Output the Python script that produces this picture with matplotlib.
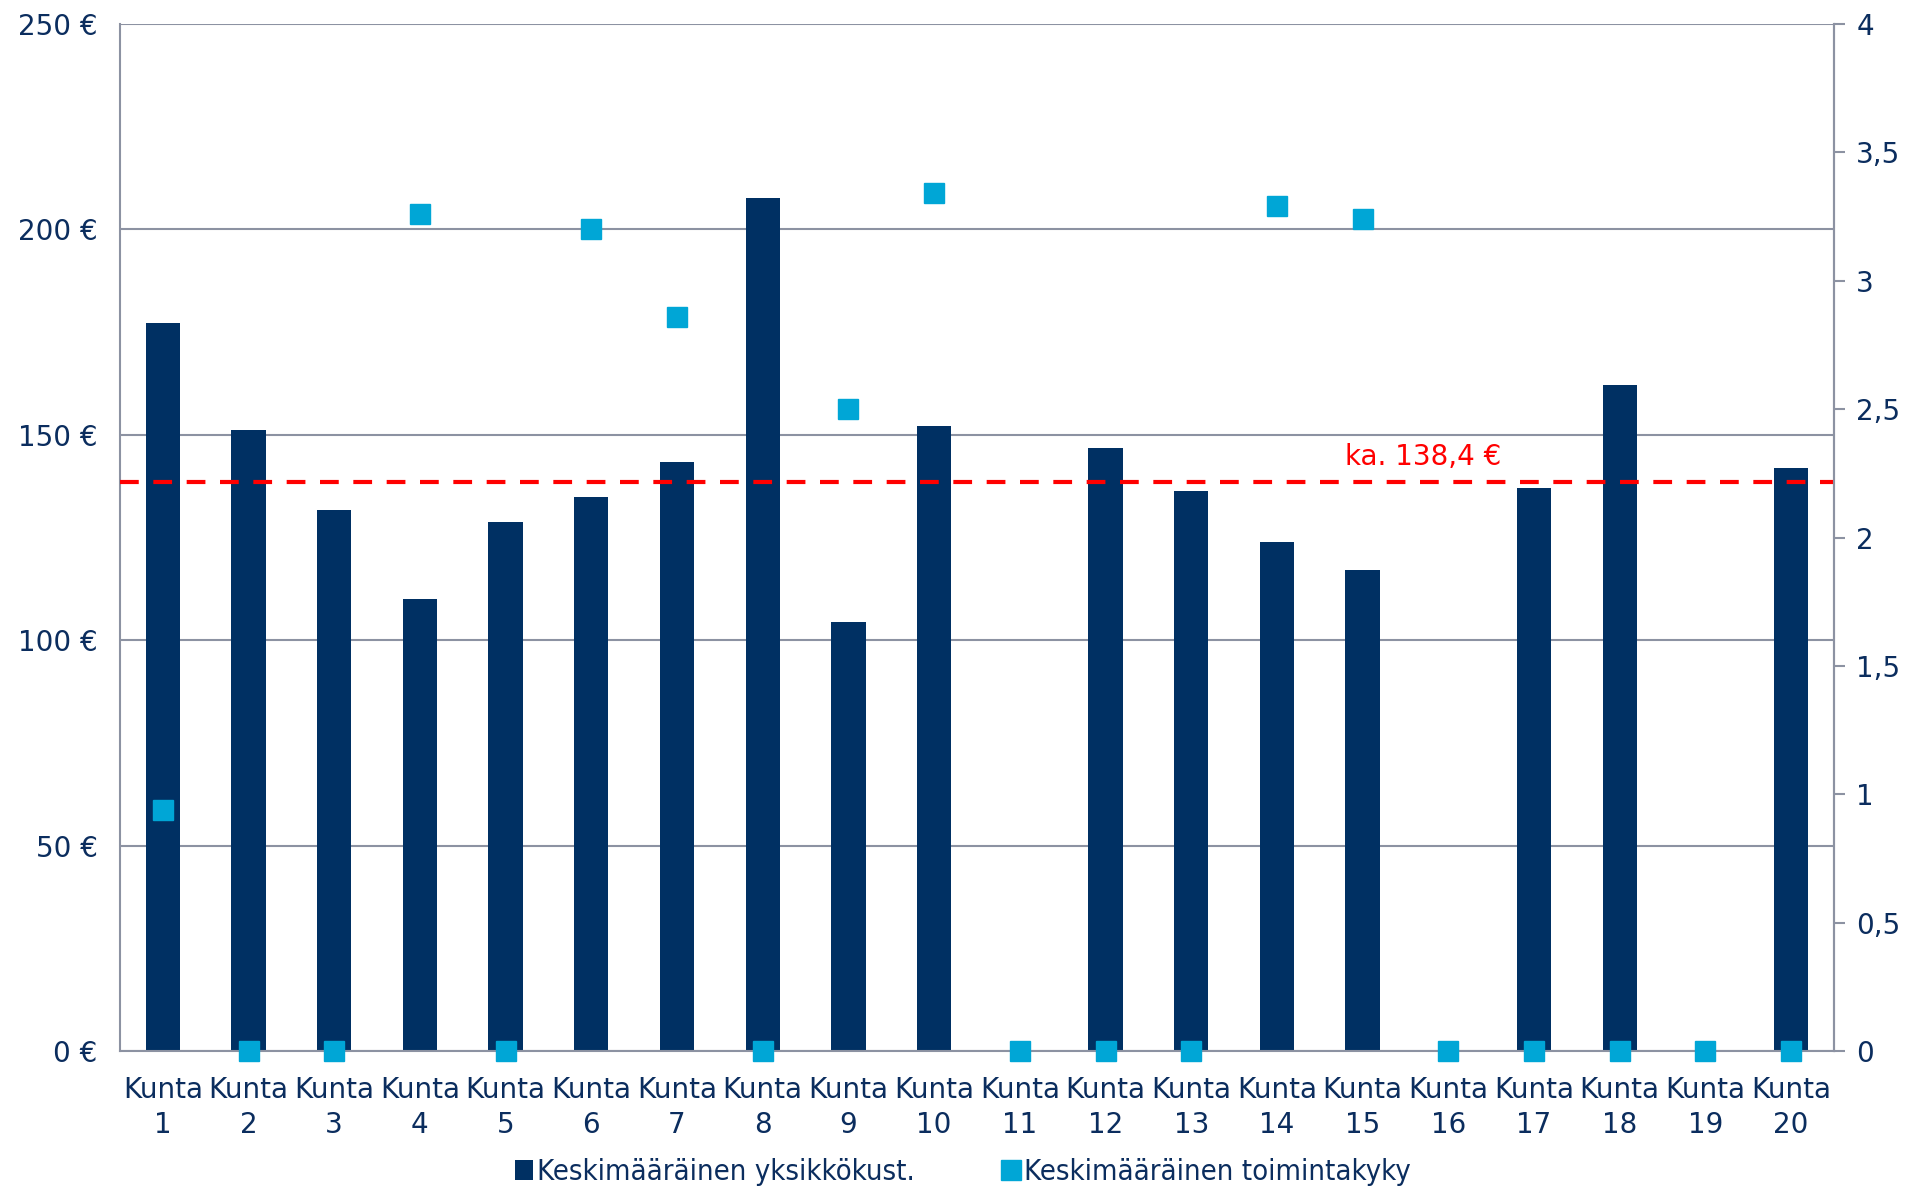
import matplotlib.pyplot as plt
import numpy as np

# data
kunnat = ["Kunta\n" + str(i) for i in range(1, 21)]
yksikkokust = [177.3, 151.2, 131.7, 110.0, 128.7, 134.9, 143.5, 207.6, 104.4, 152.1,
               0, 146.8, 136.4, 124.0, 117.1, 0, 137.0, 162.2, 0, 142.0]
toimintakyky = [0.94, 0, 0, 3.26, 0, 3.20, 2.86, 0, 2.50, 3.34,
                0, 0, 0, 3.29, 3.24, 0, 0, 0, 0, 0]
keskiarvo = 138.4

navy = '#003063'
cyan = '#00A6D6'
textc = '#0B2D5E'
gridc = '#8C92A2'

plt.rcParams['font.family'] = ['DejaVu Sans']
plt.rcParams['font.size'] = 18

fig = plt.figure(figsize=(19.07, 11.9), dpi=100)
ax = fig.add_axes([0.0629, 0.1168, 0.8988, 0.8630])
ax2 = ax.twinx()

x = np.arange(len(kunnat))
ax.bar(x, yksikkokust, width=0.4, color=navy, zorder=2,
       label='Keskimääräinen yksikkökust.')
ax.axhline(keskiarvo, color='#FF0000', lw=3, linestyle=(0, (4.5, 3.5)), zorder=3)
ax.text(14.71, 144.7, "ka. 138,4 €", color='#FF0000', fontsize=20,
        ha='center', va='center')

ax2.plot(x, toimintakyky, 's', color=cyan, markersize=14, clip_on=False,
         zorder=5, label='Keskimääräinen toimintakyky')

ax.set_xlim(-0.5, 19.5)
ax.set_ylim(0, 250)
ax2.set_ylim(0, 4)
ax.set_yticks([0, 50, 100, 150, 200, 250])
ax.set_yticklabels([f"{v} €" for v in [0, 50, 100, 150, 200, 250]])
ax2.set_yticks([0, 0.5, 1, 1.5, 2, 2.5, 3, 3.5, 4])
ax2.set_yticklabels(["0", "0,5", "1", "1,5", "2", "2,5", "3", "3,5", "4"])
ax.set_xticks(x)
ax.set_xticklabels(kunnat, linespacing=1.3)

ax.grid(axis='y', color=gridc, lw=1.5, zorder=0)
ax.set_axisbelow(True)
for a in (ax, ax2):
    for s in a.spines.values():
        s.set_color(gridc)
        s.set_linewidth(1.5)
    a.spines['top'].set_visible(False)
ax2.spines['left'].set_visible(False)
ax2.spines['bottom'].set_visible(False)

ax.tick_params(axis='y', length=0, pad=16, colors=textc, labelsize=20)
ax.tick_params(axis='x', length=0, pad=18, colors=textc, labelsize=20)
ax2.tick_params(axis='y', length=8, width=1.5, color=gridc, pad=8,
                labelcolor=textc, labelsize=20)

h1, l1 = ax.get_legend_handles_labels()
h2, l2 = ax2.get_legend_handles_labels()
leg = fig.legend(h1 + h2, l1 + l2, loc='lower center', bbox_to_anchor=(0.505, -0.019),
                 ncol=2, frameon=False, handlelength=0.6, handletextpad=0.15,
                 columnspacing=3.0, prop={'size': 21, 'stretch': 'condensed'})
for t in leg.get_texts():
    t.set_color(textc)

fig.savefig('out.png', dpi=100)
